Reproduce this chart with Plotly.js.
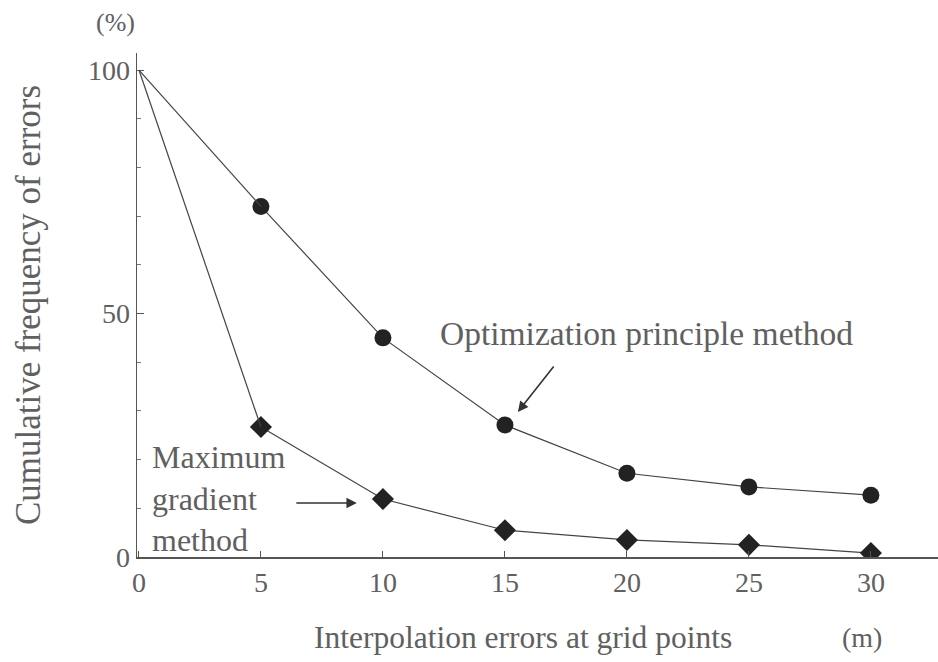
<!DOCTYPE html>
<html>
<head>
<meta charset="utf-8">
<script src="https://cdn.plot.ly/plotly-3.0.1.min.js"></script>
<style>html,body{margin:0;padding:0;background:#fff;}</style>
</head>
<body>
<div id="chart" style="width:938px;height:662px;"></div>
<script>
var errorsM = [0, 5, 10, 15, 20, 25, 30];
var optimization = [100, 72, 45, 27.1, 17.2, 14.4, 12.7];
var maxGradient = [100, 26.7, 11.9, 5.5, 3.5, 2.5, 0.8];
var xTicks = [0, 5, 10, 15, 20, 25, 30];
var yTicks = [0, 50, 100];

var FONT = 'Liberation Serif, Times New Roman, serif';
var TXT = '#606060';

var traces = [
  {
    x: errorsM.slice(1), y: optimization.slice(1), type: 'scatter', mode: 'lines+markers',
    name: 'Optimization principle method',
    line: {color: '#444', width: 1.2},
    marker: {symbol: 'circle', size: 17, color: '#222'}
  },
  {
    x: errorsM.slice(0, 2), y: optimization.slice(0, 2), type: 'scatter', mode: 'lines',
    showlegend: false, line: {color: '#444', width: 1.2}, hoverinfo: 'skip'
  },
  {
    x: errorsM.slice(1), y: maxGradient.slice(1), type: 'scatter', mode: 'lines+markers',
    name: 'Maximum gradient method',
    line: {color: '#444', width: 1.2},
    marker: {symbol: 'diamond', size: 17, color: '#222'}
  },
  {
    x: errorsM.slice(0, 2), y: maxGradient.slice(0, 2), type: 'scatter', mode: 'lines',
    showlegend: false, line: {color: '#444', width: 1.2}, hoverinfo: 'skip'
  }
];

var layout = {
  width: 938, height: 662,
  margin: {l: 137, r: 0, t: 53, b: 105},
  paper_bgcolor: '#fff', plot_bgcolor: '#fff',
  showlegend: false,
  font: {family: FONT, color: TXT, size: 28},
  xaxis: {
    range: [-0.08, 32.75], showgrid: false, zeroline: false,
    showline: true, linecolor: '#555', linewidth: 1.5,
    tickmode: 'array', tickvals: xTicks, ticktext: xTicks.map(String),
    ticks: 'inside', ticklen: 6, tickcolor: '#555',
    tickfont: {family: FONT, size: 28, color: TXT}
  },
  yaxis: {
    range: [0, 103.5], showgrid: false, zeroline: false,
    showline: true, linecolor: '#555', linewidth: 1.5,
    tickmode: 'array', tickvals: yTicks, ticktext: yTicks.map(String),
    ticks: 'inside', ticklen: 7, tickcolor: '#555',
    minor: {dtick: 10, ticks: 'inside', ticklen: 4, tickcolor: '#777'},
    tickfont: {family: FONT, size: 28, color: TXT},
    title: {text: 'Cumulative frequency of errors', font: {family: FONT, size: 35, color: TXT}, standoff: 36}
  },
  annotations: [
    {xref: 'paper', yref: 'paper', x: 0.482, y: -0.159, text: 'Interpolation errors at grid points',
     showarrow: false, font: {family: FONT, size: 31.5, color: TXT}, xanchor: 'center', yanchor: 'middle'},
    {xref: 'paper', yref: 'paper', x: 0.905, y: -0.159, text: '(m)',
     showarrow: false, font: {family: FONT, size: 28, color: TXT}, xanchor: 'center', yanchor: 'middle'},
    {xref: 'paper', yref: 'paper', x: -0.027, y: 1.061, text: '(%)',
     showarrow: false, font: {family: FONT, size: 26, color: TXT}, xanchor: 'center', yanchor: 'middle'},
    {xref: 'x', yref: 'y', x: 20.82, y: 46.0, text: 'Optimization principle method',
     showarrow: false, font: {family: FONT, size: 33.5, color: TXT}, xanchor: 'center', yanchor: 'middle'},
    {xref: 'x', yref: 'y', x: 0.45, y: 12.1, text: 'Maximum<br>gradient<br>method', align: 'left',
     showarrow: false, font: {family: FONT, size: 32, color: TXT}, xanchor: 'left', yanchor: 'middle'},
    {xref: 'x', yref: 'y', x: 15.53, y: 29.8, text: '', showarrow: true, ax: 37, ay: -47,
     arrowhead: 2, arrowsize: 1.3, arrowwidth: 1.6, arrowcolor: '#333', standoff: 0},
    {xref: 'x', yref: 'y', x: 8.93, y: 11.1, text: '', showarrow: true, ax: -62, ay: 0,
     arrowhead: 2, arrowsize: 1.3, arrowwidth: 1.6, arrowcolor: '#333', standoff: 0}
  ]
};

Plotly.newPlot('chart', traces, layout, {displayModeBar: false, staticPlot: true});
</script>
</body>
</html>
